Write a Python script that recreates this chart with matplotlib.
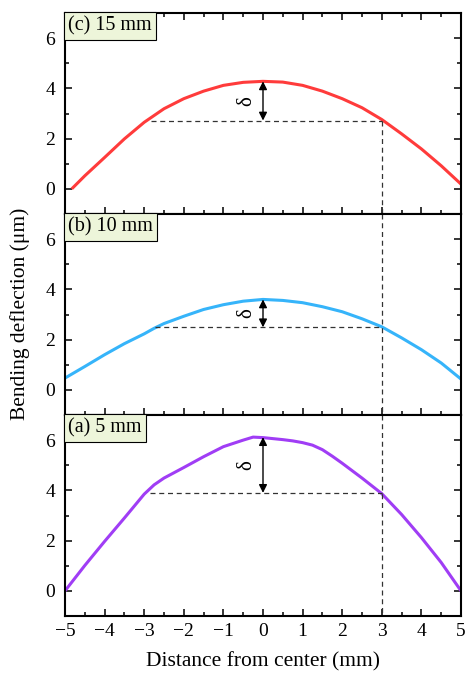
import matplotlib
matplotlib.use('Agg')
import matplotlib.pyplot as plt
import numpy as np

plt.rcParams['font.family'] = ['Liberation Serif', 'DejaVu Serif']

# distance from center (mm) and deflection (um)
x_c = [-4.83, -4.5, -4.0, -3.5, -3.0, -2.75, -2.5, -2.0, -1.5, -1.0, -0.5, 0.0, 0.5, 1.0, 1.5, 2.0, 2.5, 3.0, 3.5, 4.0, 4.5, 5.0]
y_c = [0.0, 0.52, 1.25, 1.99, 2.65, 2.92, 3.19, 3.59, 3.89, 4.12, 4.24, 4.28, 4.25, 4.12, 3.89, 3.59, 3.23, 2.76, 2.19, 1.59, 0.92, 0.19]

x_b = [-5.0, -4.5, -4.0, -3.5, -3.0, -2.75, -2.5, -2.0, -1.5, -1.0, -0.5, 0.0, 0.5, 1.0, 1.5, 2.0, 2.5, 3.0, 3.5, 4.0, 4.5, 5.0]
y_b = [0.47, 0.93, 1.4, 1.84, 2.23, 2.45, 2.64, 2.93, 3.2, 3.39, 3.53, 3.6, 3.56, 3.47, 3.31, 3.11, 2.83, 2.51, 2.07, 1.6, 1.07, 0.43]

x_a = [-5.0, -4.5, -4.0, -3.5, -3.0, -2.75, -2.5, -2.0, -1.5, -1.0, -0.5, -0.25, 0.0, 0.25, 0.5, 0.75, 1.0, 1.25, 1.5, 1.75, 2.0, 2.5, 3.0, 3.5, 4.0, 4.5, 5.0]
y_a = [0.0, 1.01, 1.97, 2.9, 3.85, 4.22, 4.49, 4.91, 5.34, 5.74, 6.0, 6.12, 6.1, 6.06, 6.02, 5.97, 5.9, 5.8, 5.62, 5.36, 5.08, 4.49, 3.87, 3.04, 2.12, 1.13, 0.0]

labels = ['(c) 15 mm', '(b) 10 mm', '(a) 5 mm']
colors = ['#FF3B3B', '#36B4FA', '#A03DF5']
levels = [2.72, 2.49, 3.9]      # dashed level at x = 3
starts = [-2.82, -2.73, -2.85]  # where the dashed level meets the curve on the left
xs_all = [x_c, x_b, x_a]
ys_all = [y_c, y_b, y_a]

fig = plt.figure(figsize=(4.65, 6.78), dpi=100)
left, right = 65 / 465, 461 / 465
tops = [13, 214, 415]
h = 201 / 678

axes = []
for i in range(3):
    xs, ys, lvl = xs_all[i], ys_all[i], levels[i]
    bottom = 1 - (tops[i] + 201) / 678
    ax = fig.add_axes([left, bottom, right - left, h])
    ax.plot(xs, ys, color=colors[i], lw=2.2, solid_capstyle='butt')
    ax.set_xlim(-5, 5)
    ax.set_ylim(-1, 7)
    ax.set_yticks([0, 2, 4, 6])
    ax.set_yticks([-1, 1, 3, 5, 7], minor=True)
    ax.set_xticks(np.arange(-5, 6, 1))
    ax.set_xticks(np.arange(-4.5, 5, 1), minor=True)
    ax.tick_params(which='both', direction='in', right=True, top=(i == 0),
                   labelsize=14, width=1.1)
    ax.tick_params(axis='y', pad=7)
    ax.tick_params(axis='x', pad=5)
    ax.tick_params(which='major', length=5)
    ax.tick_params(which='minor', length=2.8)
    for s in ax.spines.values():
        s.set_linewidth(1.5)
    if i < 2:
        ax.tick_params(labelbottom=False)
    # dashed guides
    ax.plot([starts[i], 3], [lvl, lvl], ls=(0, (4, 3)), color='#333333', lw=0.9)
    if i == 0:
        ax.plot([3, 3], [lvl, -1], ls=(0, (4, 3)), color='#333333', lw=0.9)
    else:
        ax.plot([3, 3], [7, -1], ls=(0, (4, 3)), color='#333333', lw=0.9)
    # delta arrow
    peak = max(ys)
    ax.annotate('', xy=(0, lvl), xytext=(0, peak),
                arrowprops=dict(arrowstyle='<|-|>', color='black', lw=1.0,
                                mutation_scale=12, shrinkA=0, shrinkB=0))
    ax.text(-0.42, (lvl + peak) / 2, 'δ', rotation=90, ha='center', va='center',
            fontsize=15)
    ax.text(0.008, 0.985, labels[i], transform=ax.transAxes, ha='left', va='top',
            fontsize=14.5,
            bbox=dict(boxstyle='square,pad=0.22', fc='#EDF5DA', ec='black', lw=0.8))
    axes.append(ax)

axes[2].set_xlabel('Distance from center (mm)', fontsize=15.5, labelpad=9)
fig.text(0.043, 1 - 314 / 678, 'Bending deflection (μm)', rotation=90, ha='center',
         va='center', fontsize=15.5)

fig.savefig('out.png', dpi=100)
